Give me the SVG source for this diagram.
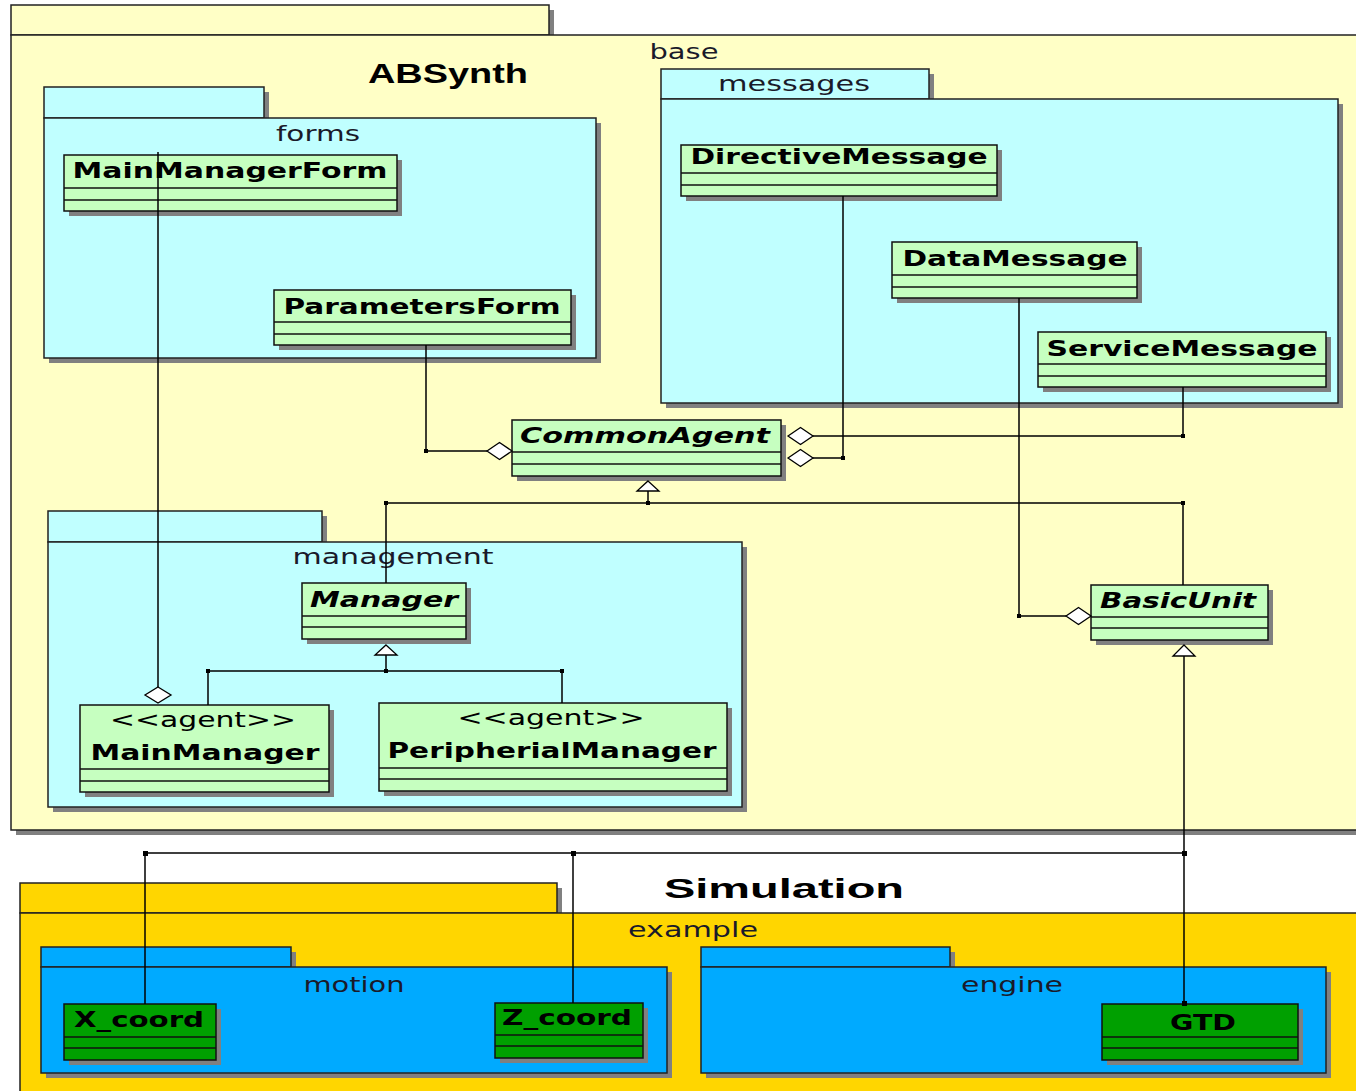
<svg xmlns="http://www.w3.org/2000/svg" width="1356" height="1091" viewBox="0 0 1356 1091">
<style>
.sh{fill:#808080;}
.pkgY{fill:#FFFFC6;stroke:#222;stroke-width:1.5;}
.pkgC{fill:#C0FFFF;stroke:#222;stroke-width:1.5;}
.pkgG{fill:#FFD600;stroke:#222;stroke-width:1.5;}
.pkgB{fill:#00AAFF;stroke:#222;stroke-width:1.5;}
.cls{fill:#C6FFC0;stroke:#111;stroke-width:1.5;}
.clsD{fill:#00A000;stroke:#111;stroke-width:1.5;}
.div{stroke:#111;stroke-width:1.5;}
.lbl{font-family:"DejaVu Sans",sans-serif;font-size:22px;fill:#1a1a2a;text-anchor:middle;}
.cn{font-family:"DejaVu Sans",sans-serif;font-size:22px;font-weight:bold;fill:#000;text-anchor:middle;}
.ci{font-family:"DejaVu Sans",sans-serif;font-size:22px;font-weight:bold;font-style:italic;fill:#000;text-anchor:middle;}
.st{font-family:"DejaVu Sans",sans-serif;font-size:22px;fill:#000;text-anchor:middle;}
.big{font-family:"Liberation Sans",Arial,sans-serif;font-size:28px;font-weight:bold;fill:#000;text-anchor:middle;}
.ln{stroke:#000;stroke-width:1.5;fill:none;}
.dia{fill:#fff;stroke:#000;stroke-width:1.3;}
.tri{fill:#fff;stroke:#000;stroke-width:1.3;}
.dot{fill:#000;}
</style>
<rect width="1356" height="1091" fill="#fff"/>

<!-- ABSynth package -->
<g id="pkg-absynth">
<rect class="sh" x="16" y="10" width="538" height="30"/>
<rect class="sh" x="16" y="40" width="1350" height="795"/>
<rect class="pkgY" x="11" y="5" width="538" height="30"/>
<rect class="pkgY" x="11" y="35" width="1360" height="795"/>
<text class="big" x="448" y="83" textLength="160" lengthAdjust="spacingAndGlyphs">ABSynth</text>
<text class="lbl" x="684" y="59" textLength="69" lengthAdjust="spacingAndGlyphs">base</text>
</g>

<!-- forms package -->
<g id="pkg-forms">
<rect class="sh" x="49" y="92" width="220" height="31"/>
<rect class="sh" x="49" y="123" width="552" height="240"/>
<rect class="pkgC" x="44" y="87" width="220" height="31"/>
<rect class="pkgC" x="44" y="118" width="552" height="240"/>
<text class="lbl" x="318" y="141" textLength="84" lengthAdjust="spacingAndGlyphs">forms</text>
</g>

<!-- messages package -->
<g id="pkg-messages">
<rect class="sh" x="666" y="74" width="268" height="30"/>
<rect class="sh" x="666" y="104" width="677" height="304"/>
<rect class="pkgC" x="661" y="69" width="268" height="30"/>
<rect class="pkgC" x="661" y="99" width="677" height="304"/>
<text class="lbl" x="794" y="91" textLength="152" lengthAdjust="spacingAndGlyphs">messages</text>
</g>

<!-- management package -->
<g id="pkg-management">
<rect class="sh" x="53" y="516" width="274" height="31"/>
<rect class="sh" x="53" y="547" width="694" height="265"/>
<rect class="pkgC" x="48" y="511" width="274" height="31"/>
<rect class="pkgC" x="48" y="542" width="694" height="265"/>
<text class="lbl" x="393" y="564" textLength="201" lengthAdjust="spacingAndGlyphs">management</text>
</g>

<!-- Simulation package -->
<g id="pkg-simulation">
<rect class="sh" x="25" y="888" width="537" height="30"/>
<rect class="sh" x="25" y="918" width="1340" height="180"/>
<rect class="pkgG" x="20" y="883" width="537" height="30"/>
<rect class="pkgG" x="20" y="913" width="1345" height="190"/>
<text class="big" x="784" y="898" textLength="240" lengthAdjust="spacingAndGlyphs">Simulation</text>
<text class="lbl" x="693" y="937" textLength="130" lengthAdjust="spacingAndGlyphs">example</text>
</g>

<!-- motion package -->
<g id="pkg-motion">
<rect class="sh" x="46" y="952" width="250" height="20"/>
<rect class="sh" x="46" y="972" width="626" height="106"/>
<rect class="pkgB" x="41" y="947" width="250" height="20"/>
<rect class="pkgB" x="41" y="967" width="626" height="106"/>
<text class="lbl" x="354" y="992" textLength="101" lengthAdjust="spacingAndGlyphs">motion</text>
</g>

<!-- engine package -->
<g id="pkg-engine">
<rect class="sh" x="706" y="952" width="249" height="20"/>
<rect class="sh" x="706" y="972" width="625" height="106"/>
<rect class="pkgB" x="701" y="947" width="249" height="20"/>
<rect class="pkgB" x="701" y="967" width="625" height="106"/>
<text class="lbl" x="1012" y="992" textLength="102" lengthAdjust="spacingAndGlyphs">engine</text>
</g>

<!-- Classes -->
<g id="MainManagerForm">
<rect class="sh" x="69" y="160" width="333" height="56"/>
<rect class="cls" x="64" y="155" width="333" height="56"/>
<line class="div" x1="64" y1="188" x2="397" y2="188"/><line class="div" x1="64" y1="200" x2="397" y2="200"/>
<text class="cn" x="230" y="178" textLength="315" lengthAdjust="spacingAndGlyphs">MainManagerForm</text>
</g>
<g id="ParametersForm">
<rect class="sh" x="279" y="295" width="297" height="55"/>
<rect class="cls" x="274" y="290" width="297" height="55"/>
<line class="div" x1="274" y1="322" x2="571" y2="322"/><line class="div" x1="274" y1="334" x2="571" y2="334"/>
<text class="cn" x="422" y="314" textLength="277" lengthAdjust="spacingAndGlyphs">ParametersForm</text>
</g>
<g id="DirectiveMessage">
<rect class="sh" x="686" y="150" width="316" height="51"/>
<rect class="cls" x="681" y="145" width="316" height="51"/>
<line class="div" x1="681" y1="173" x2="997" y2="173"/><line class="div" x1="681" y1="185" x2="997" y2="185"/>
<text class="cn" x="839" y="164" textLength="297" lengthAdjust="spacingAndGlyphs">DirectiveMessage</text>
</g>
<g id="DataMessage">
<rect class="sh" x="897" y="247" width="245" height="56"/>
<rect class="cls" x="892" y="242" width="245" height="56"/>
<line class="div" x1="892" y1="275" x2="1137" y2="275"/><line class="div" x1="892" y1="287" x2="1137" y2="287"/>
<text class="cn" x="1015" y="266" textLength="225" lengthAdjust="spacingAndGlyphs">DataMessage</text>
</g>
<g id="ServiceMessage">
<rect class="sh" x="1043" y="337" width="288" height="55"/>
<rect class="cls" x="1038" y="332" width="288" height="55"/>
<line class="div" x1="1038" y1="364" x2="1326" y2="364"/><line class="div" x1="1038" y1="376" x2="1326" y2="376"/>
<text class="cn" x="1182" y="356" textLength="271" lengthAdjust="spacingAndGlyphs">ServiceMessage</text>
</g>
<g id="CommonAgent">
<rect class="sh" x="517" y="425" width="269" height="56"/>
<rect class="cls" x="512" y="420" width="269" height="56"/>
<line class="div" x1="512" y1="452" x2="781" y2="452"/><line class="div" x1="512" y1="464" x2="781" y2="464"/>
<text class="ci" x="645" y="443" textLength="250" lengthAdjust="spacingAndGlyphs">CommonAgent</text>
</g>
<g id="BasicUnit">
<rect class="sh" x="1096" y="590" width="177" height="55"/>
<rect class="cls" x="1091" y="585" width="177" height="55"/>
<line class="div" x1="1091" y1="617" x2="1268" y2="617"/><line class="div" x1="1091" y1="628" x2="1268" y2="628"/>
<text class="ci" x="1178" y="608" textLength="156" lengthAdjust="spacingAndGlyphs">BasicUnit</text>
</g>
<g id="Manager">
<rect class="sh" x="307" y="588" width="164" height="56"/>
<rect class="cls" x="302" y="583" width="164" height="56"/>
<line class="div" x1="302" y1="616" x2="466" y2="616"/><line class="div" x1="302" y1="627" x2="466" y2="627"/>
<text class="ci" x="384" y="607" textLength="148" lengthAdjust="spacingAndGlyphs">Manager</text>
</g>
<g id="MainManager">
<rect class="sh" x="85" y="710" width="249" height="87"/>
<rect class="cls" x="80" y="705" width="249" height="87"/>
<line class="div" x1="80" y1="769" x2="329" y2="769"/><line class="div" x1="80" y1="781" x2="329" y2="781"/>
<text class="st" x="203" y="727" textLength="186" lengthAdjust="spacingAndGlyphs">&lt;&lt;agent&gt;&gt;</text>
<text class="cn" x="205" y="760" textLength="229" lengthAdjust="spacingAndGlyphs">MainManager</text>
</g>
<g id="PeripherialManager">
<rect class="sh" x="384" y="708" width="348" height="88"/>
<rect class="cls" x="379" y="703" width="348" height="88"/>
<line class="div" x1="379" y1="768" x2="727" y2="768"/><line class="div" x1="379" y1="779" x2="727" y2="779"/>
<text class="st" x="551" y="725" textLength="187" lengthAdjust="spacingAndGlyphs">&lt;&lt;agent&gt;&gt;</text>
<text class="cn" x="552" y="758" textLength="329" lengthAdjust="spacingAndGlyphs">PeripherialManager</text>
</g>
<g id="X_coord">
<rect class="sh" x="69" y="1009" width="152" height="56"/>
<rect class="clsD" x="64" y="1004" width="152" height="56"/>
<line class="div" x1="64" y1="1037" x2="216" y2="1037"/><line class="div" x1="64" y1="1048" x2="216" y2="1048"/>
<text class="cn" x="139" y="1027" textLength="130" lengthAdjust="spacingAndGlyphs">X_coord</text>
</g>
<g id="Z_coord">
<rect class="sh" x="500" y="1008" width="148" height="55"/>
<rect class="clsD" x="495" y="1003" width="148" height="55"/>
<line class="div" x1="495" y1="1035" x2="643" y2="1035"/><line class="div" x1="495" y1="1046" x2="643" y2="1046"/>
<text class="cn" x="567" y="1025" textLength="130" lengthAdjust="spacingAndGlyphs">Z_coord</text>
</g>
<g id="GTD">
<rect class="sh" x="1107" y="1009" width="196" height="56"/>
<rect class="clsD" x="1102" y="1004" width="196" height="56"/>
<line class="div" x1="1102" y1="1037" x2="1298" y2="1037"/><line class="div" x1="1102" y1="1048" x2="1298" y2="1048"/>
<text class="cn" x="1203" y="1030" textLength="66" lengthAdjust="spacingAndGlyphs">GTD</text>
</g>

<!-- Connectors -->
<g id="connectors">
<polyline class="ln" points="158,152 158,687"/>
<polygon class="dia" points="158,687 171,695 158,703 145,695"/>
<polyline class="ln" points="426,345 426,451 487,451"/>
<polygon class="dia" points="487,451 499.5,442.5 512,451 499.5,459.5"/>
<rect class="dot" x="424" y="449" width="4" height="4"/>
<polyline class="ln" points="1183,387 1183,436 813,436"/>
<polygon class="dia" points="788,436 800.5,427.5 813,436 800.5,444.5"/>
<rect class="dot" x="1181" y="434" width="4" height="4"/>
<polyline class="ln" points="843,196 843,458 813,458"/>
<polygon class="dia" points="788,458 800.5,449.5 813,458 800.5,466.5"/>
<rect class="dot" x="841" y="456" width="4" height="4"/>
<polyline class="ln" points="1019,298 1019,616 1066,616"/>
<polygon class="dia" points="1066,616 1078.5,607.5 1091,616 1078.5,624.5"/>
<rect class="dot" x="1017" y="614" width="4" height="4"/>
<polyline class="ln" points="386,583 386,503 1183,503 1183,585"/>
<line class="ln" x1="648" y1="491" x2="648" y2="503"/>
<polygon class="tri" points="648,481 659,491 637,491"/>
<rect class="dot" x="384" y="501" width="4" height="4"/>
<rect class="dot" x="646" y="501" width="4" height="4"/>
<rect class="dot" x="1181" y="501" width="4" height="4"/>
<polyline class="ln" points="208,705 208,671 562,671 562,703"/>
<line class="ln" x1="386" y1="655" x2="386" y2="671"/>
<polygon class="tri" points="386,645 397,655 375,655"/>
<rect class="dot" x="206" y="669" width="4" height="4"/>
<rect class="dot" x="384" y="669" width="4" height="4"/>
<rect class="dot" x="560" y="669" width="4" height="4"/>
<line class="ln" x1="1184" y1="656" x2="1184" y2="1004"/>
<polygon class="tri" points="1184,645 1195,656 1173,656"/>
<polyline class="ln" points="145,1004 145,853 1184,853"/>
<line class="ln" x1="573" y1="853" x2="573" y2="1003"/>
<rect class="dot" x="143" y="851" width="5" height="5"/>
<rect class="dot" x="571" y="851" width="5" height="5"/>
<rect class="dot" x="1182" y="851" width="5" height="5"/>
<rect class="dot" x="1182" y="1001" width="5" height="5"/>
</g>
</svg>
